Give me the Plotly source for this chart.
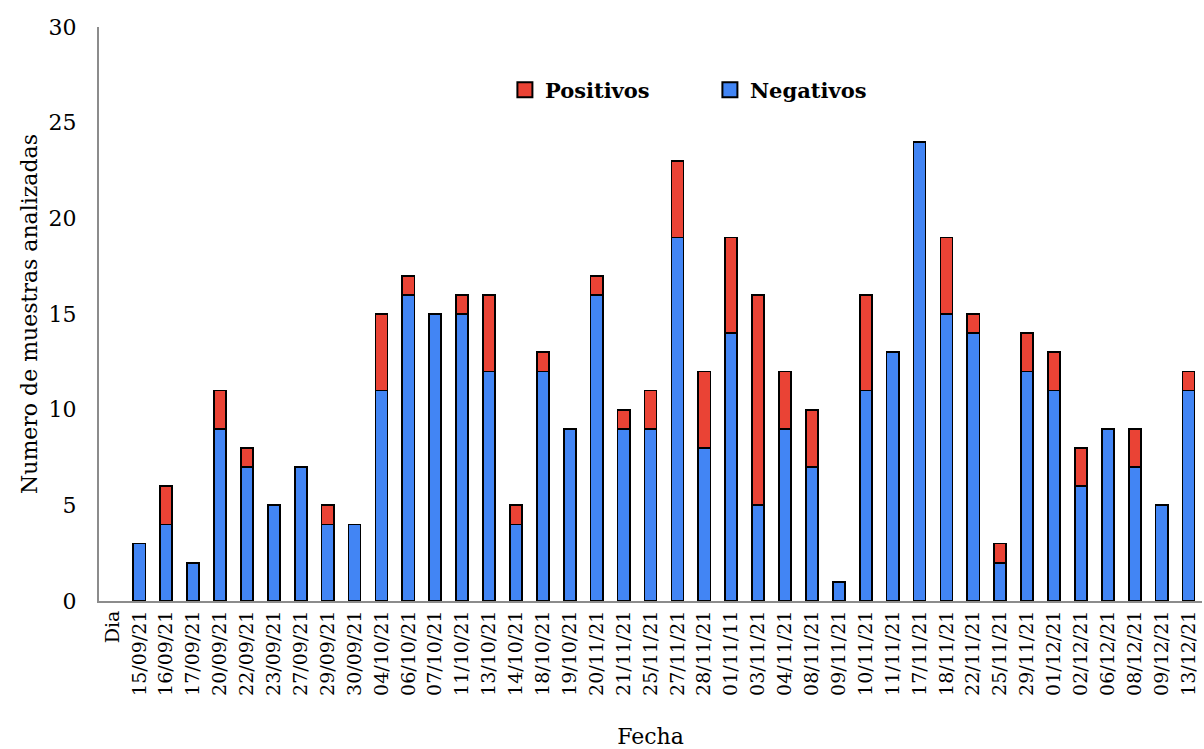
import plotly.graph_objects as go

fechas = ["Dia", "15/09/21", "16/09/21", "17/09/21", "20/09/21", "22/09/21", "23/09/21",
          "27/09/21", "29/09/21", "30/09/21", "04/10/21", "06/10/21", "07/10/21", "11/10/21",
          "13/10/21", "14/10/21", "18/10/21", "19/10/21", "20/11/21", "21/11/21", "25/11/21",
          "27/11/21", "28/11/21", "01/11/11", "03/11/21", "04/11/21", "08/11/21", "09/11/21",
          "10/11/21", "11/11/21", "17/11/21", "18/11/21", "22/11/21", "25/11/21", "29/11/21",
          "01/12/21", "02/12/21", "06/12/21", "08/12/21", "09/12/21", "13/12/21"]
negativos = [None, 3, 4, 2, 9, 7, 5, 7, 4, 4, 11, 16, 15, 15, 12, 4, 12, 9, 16, 9, 9,
             19, 8, 14, 5, 9, 7, 1, 11, 13, 24, 15, 14, 2, 12, 11, 6, 9, 7, 5, 11]
positivos = [None, 0, 2, 0, 2, 1, 0, 0, 1, 0, 4, 1, 0, 1, 4, 1, 1, 0, 1, 1, 2,
             4, 4, 5, 11, 3, 3, 0, 5, 0, 0, 4, 1, 1, 2, 2, 2, 0, 2, 0, 1]

pos_idx = list(range(len(fechas)))
azul = "#4285F4"
rojo = "#EA4335"

fig = go.Figure()
fig.add_trace(go.Bar(x=pos_idx, y=negativos, name="Negativos", showlegend=False,
                     marker=dict(color=azul, line=dict(color="black", width=1.7)),
                     width=0.45))
fig.add_trace(go.Bar(x=pos_idx, y=positivos, name="Positivos", showlegend=False,
                     marker=dict(color=rojo, line=dict(color="black", width=1.7)),
                     width=0.45))
# legend-only entries (larger square symbols)
fig.add_trace(go.Scatter(x=[None], y=[None], mode="markers", name="Positivos",
                         marker=dict(symbol="square", size=15, color=rojo,
                                     line=dict(color="black", width=2))))
fig.add_trace(go.Scatter(x=[None], y=[None], mode="markers", name="Negativos",
                         marker=dict(symbol="square", size=15, color=azul,
                                     line=dict(color="black", width=2))))

font_family = "DejaVu Serif"
fig.update_layout(
    barmode="stack",
    width=1204, height=749,
    margin=dict(l=99, r=2, t=27, b=148),
    plot_bgcolor="white", paper_bgcolor="white",
    font=dict(family=font_family, color="black"),
    showlegend=True,
    legend=dict(orientation="h", x=0.368, y=0.89, xanchor="left", yanchor="middle",
                traceorder="normal",
                font=dict(size=21, family=font_family, weight="bold"),
                itemwidth=30, entrywidth=160, entrywidthmode="pixels",
                bgcolor="rgba(0,0,0,0)"),
    xaxis=dict(
        tickmode="array", tickvals=pos_idx, ticktext=fechas, tickangle=-90,
        range=[-0.5, 40.5], showline=True, linecolor="#8c8c8c", linewidth=2,
        ticks="", tickfont=dict(size=19, family=font_family),
        title=dict(text="Fecha", font=dict(size=22, family=font_family), standoff=35),
        showgrid=False, zeroline=False,
    ),
    yaxis=dict(
        range=[0, 30], tickvals=[0, 5, 10, 15, 20, 25, 30], showline=True,
        linecolor="#8c8c8c", linewidth=2, ticks="", showgrid=False, zeroline=False,
        tickfont=dict(size=22, family=font_family), ticklabelstandoff=16,
        title=dict(text="Numero de muestras analizadas", font=dict(size=22, family=font_family), standoff=5),
    ),
)
fig.write_html("out.html")
